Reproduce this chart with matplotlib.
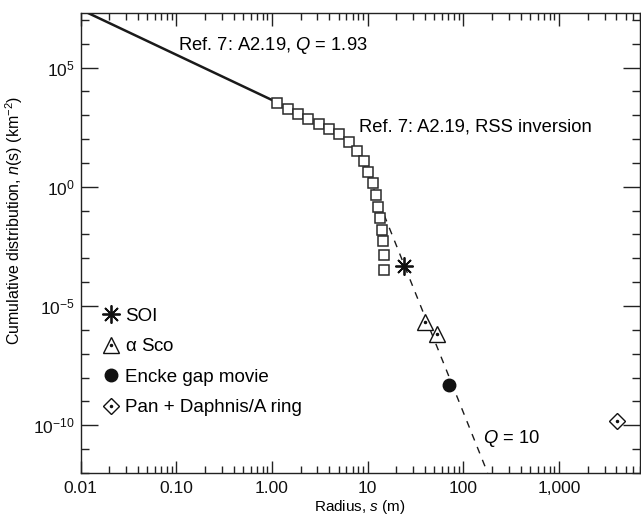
import numpy as np
import matplotlib
matplotlib.use('Agg')
import matplotlib.pyplot as plt
from matplotlib.ticker import LogLocator, NullFormatter, FuncFormatter

plt.rcParams['font.family'] = ['Liberation Sans', 'DejaVu Sans']
plt.rcParams['mathtext.fontset'] = 'custom'
plt.rcParams['mathtext.rm'] = 'Liberation Sans'
plt.rcParams['mathtext.it'] = 'Liberation Sans:italic'
plt.rcParams['mathtext.default'] = 'regular'

# power law fit, Q = 1.93 (end points)
fit_s = [0.01, 1.145]
fit_n = [2.75e7, 3.4e3]

# RSS inversion (squares)
rss_s = [1.145, 1.47, 1.88, 2.38, 3.13, 3.97, 5.06, 6.33, 7.71, 9.17,
         10.2, 11.5, 12.3, 13.0, 13.6, 14.2, 14.5, 14.7, 14.7]
rss_n = [3.4e3, 1.89e3, 1.17e3, 720, 444, 274, 157, 74.8, 31, 11.8,
         4.27, 1.45, 0.47, 0.149, 0.048, 0.0156, 0.00518, 0.00143, 3.35e-4]

# Q = 10 line (end points)
q10_s = [8.0, 180]
q10_n = [33.5, 1e-12]

soi_s, soi_n = [23.8], [4.93e-4]
sco_s, sco_n = [39.5, 53.2], [2.19e-6, 6.6e-7]
encke_s, encke_n = [70.3], [4.8e-9]
pan_s, pan_n = [4064], [1.5e-10]

xtick_vals = [0.01, 0.1, 1, 10, 100, 1000]
xtick_labels = ['0.01', '0.10', '1.00', '10', '100', '1,000']

fig = plt.figure(figsize=(6.41, 5.17), dpi=100)
ax = fig.add_axes([0.1256, 0.0853, 0.8724, 0.8886])

ax.plot(fit_s, fit_n, color='#1a1a1a', lw=1.8, zorder=2)
ax.plot(q10_s, q10_n, color='#1a1a1a', lw=1.0, dashes=(5, 5), zorder=2)
ax.plot(rss_s, rss_n, ls='none', marker='s', ms=7, mfc='white',
        mec='#2a2a2a', mew=1.1, zorder=3)

h_soi, = ax.plot(soi_s, soi_n, ls='none', marker=(8, 2, 0), ms=13,
                 mec='#111111', mew=1.3, zorder=4)
h_sco, = ax.plot(sco_s, sco_n, ls='none', marker='^', ms=12, mfc='white',
                 mec='#111111', mew=1.0, zorder=4)
h_sco_dot, = ax.plot(sco_s, sco_n, ls='none', marker='o', ms=1.5,
                     color='#111111', zorder=5)
h_enc, = ax.plot(encke_s, encke_n, ls='none', marker='o', ms=9,
                 color='#111111', zorder=4)
h_pan, = ax.plot(pan_s, pan_n, ls='none', marker='D', ms=8.5, mfc='white',
                 mec='#111111', mew=1.0, zorder=4)
h_pan_dot, = ax.plot(pan_s, pan_n, ls='none', marker='o', ms=1.5,
                     color='#111111', zorder=5)

ax.set_xscale('log')
ax.set_yscale('log')
ax.set_xlim(0.01, 7000)
ax.set_ylim(1e-12, 1.86e7)

ax.set_xticks(xtick_vals)
ax.set_xticklabels(xtick_labels)
ax.xaxis.set_minor_locator(LogLocator(base=10, subs=np.arange(2, 10), numticks=20))
ax.xaxis.set_minor_formatter(NullFormatter())

ax.yaxis.set_major_locator(LogLocator(base=1e5, numticks=10))
ax.yaxis.set_minor_locator(LogLocator(base=10, subs=[1.0], numticks=30))
ax.yaxis.set_minor_formatter(NullFormatter())
ax.yaxis.set_major_formatter(FuncFormatter(
    lambda v, p: r'$10^{%d}$' % int(round(np.log10(v))) if v > 0 else ''))

ax.tick_params(axis='both', which='both', direction='in', top=True, right=True,
               width=1.0, color='#222222', labelsize=12.5, labelcolor='#111111')
ax.tick_params(axis='x', which='major', length=9, pad=6)
ax.tick_params(axis='x', which='minor', length=4.8)
ax.tick_params(axis='y', which='major', length=12, pad=4)
ax.tick_params(axis='y', which='minor', length=6)
for sp in ax.spines.values():
    sp.set_linewidth(1.0)
    sp.set_color('#222222')

ax.set_xlabel(r'Radius, $\it{s}$ (m)', fontsize=11, labelpad=1)
ax.set_ylabel(r'Cumulative distribution, $\it{n}$(s) (km$^{-2}$)', fontsize=11.5)
ax.yaxis.set_label_coords(-0.1, 0.55)

ax.text(0.105, 8.7e5, r'Ref. 7: A2.19, $\it{Q}$ = 1.93', fontsize=13.2, va='center')
ax.text(8.19, 309, 'Ref. 7: A2.19, RSS inversion', fontsize=13.2, va='center')
ax.text(162, 2.9e-11, r'$\it{Q}$ = 10', fontsize=13.2, va='center')

ax.legend([h_soi, (h_sco, h_sco_dot), h_enc, (h_pan, h_pan_dot)],
          ['SOI', r'$\alpha$ Sco', 'Encke gap movie', 'Pan + Daphnis/A ring'],
          loc='upper left', bbox_to_anchor=(0.038, 0.3595), frameon=False,
          numpoints=1, handlelength=1.0, handletextpad=0.25, labelspacing=0.71,
          fontsize=13.5, borderaxespad=0, borderpad=0)

fig.savefig('out.png', dpi=100)
